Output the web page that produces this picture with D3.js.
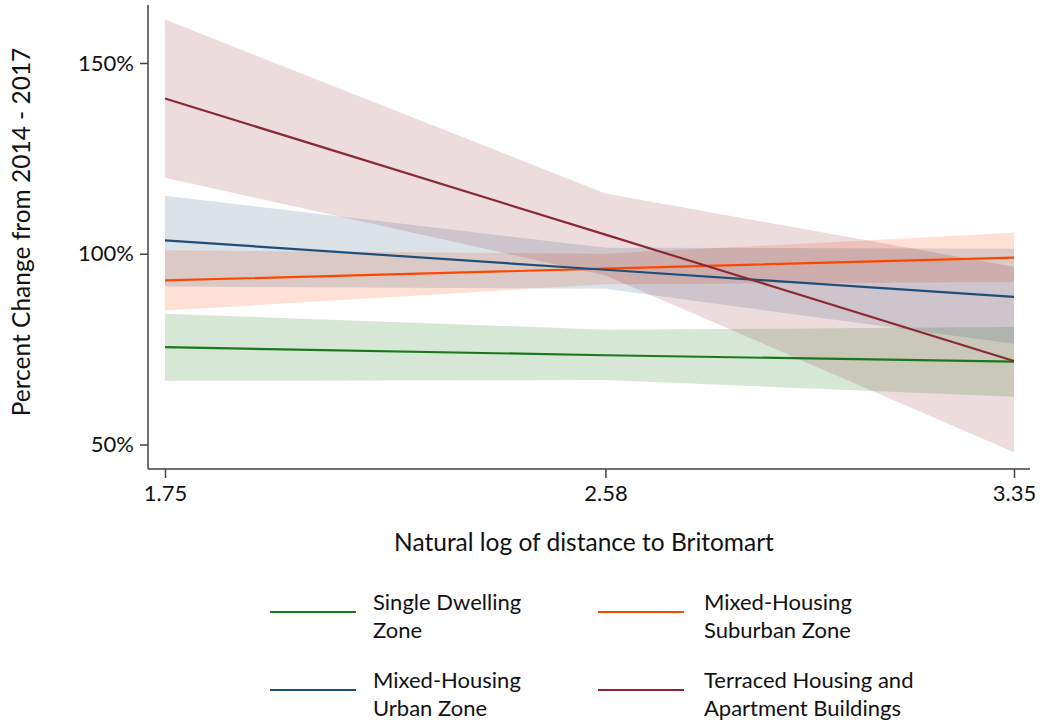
<!DOCTYPE html>
<html>
<head>
<meta charset="utf-8">
<script src="https://cdn.jsdelivr.net/npm/d3@7"></script>
<style>
  html, body { margin: 0; padding: 0; background: #fff; }
  svg { display: block; font-family: Lato, "Open Sans", sans-serif; }
</style>
</head>
<body>
<svg id="chart" width="1040" height="724"></svg>
<script>
// ---- data ----
const xValues = [1.75, 2.58, 3.35];
const xTickLabels = ["1.75", "2.58", "3.35"];
const yTicks = [50, 100, 150];

const seriesNames = ["Single Dwelling Zone", "Mixed-Housing Suburban Zone", "Mixed-Housing Urban Zone", "Terraced Housing and Apartment Buildings"];

const singleFit = [75.5, 73.4, 71.7];
const singleLo  = [66.7, 66.9, 62.5];
const singleHi  = [84.3, 80.1, 80.8];

const suburbanFit = [93.0, 96.1, 99.0];
const suburbanLo  = [85.1, 92.0, 92.6];
const suburbanHi  = [100.9, 100.0, 105.5];

const urbanFit = [103.5, 95.8, 88.7];
const urbanLo  = [91.4, 90.8, 76.4];
const urbanHi  = [115.2, 101.6, 101.3];

const terracedFit = [140.7, 105.0, 71.9];
const terracedLo  = [119.9, 94.3, 48.0];
const terracedHi  = [161.4, 115.8, 96.6];

// ---- build ----
const series = [
  { name: seriesNames[0], fit: singleFit, lo: singleLo, hi: singleHi, color: "#1a781a", op: 0.18, legend: ["Single Dwelling", "Zone"] },
  { name: seriesNames[1], fit: suburbanFit, lo: suburbanLo, hi: suburbanHi, color: "#ff4500", op: 0.17, legend: ["Mixed-Housing", "Suburban Zone"] },
  { name: seriesNames[2], fit: urbanFit, lo: urbanLo, hi: urbanHi, color: "#1f4e79", op: 0.16, legend: ["Mixed-Housing", "Urban Zone"] },
  { name: seriesNames[3], fit: terracedFit, lo: terracedLo, hi: terracedHi, color: "#8c2832", op: 0.16, legend: ["Terraced Housing and", "Apartment Buildings"] }
];

const svg = d3.select("#chart");
const x = d3.scaleLinear().domain([1.75, 3.35]).range([165, 1014]);
const y = d3.scaleLinear().domain([50, 150]).range([444.5, 63]);

const textColor = "#111";
const axisColor = "#404040";
const tickFont = 22;
const titleFont = 24.5;
const legendFont = 22;

const area = d3.area()
  .x((d, i) => x(xValues[i]))
  .y0(d => y(d[0]))
  .y1(d => y(d[1]));
const line = d3.line()
  .x((d, i) => x(xValues[i]))
  .y(d => y(d));

series.forEach(s => {
  const pts = s.lo.map((l, i) => [l, s.hi[i]]);
  svg.append("path")
    .attr("d", area(pts))
    .attr("fill", s.color)
    .attr("fill-opacity", s.op);
});
series.forEach(s => {
  svg.append("path")
    .attr("d", line(s.fit))
    .attr("fill", "none")
    .attr("stroke", s.color)
    .attr("stroke-width", 2.2);
});

// axes
const yAxis = d3.axisLeft(y).tickValues(yTicks).tickSize(8).tickPadding(6).tickFormat(d => d + "%");
const gy = svg.append("g").attr("transform", "translate(148,0)").call(yAxis);
gy.select(".domain").attr("d", "M-0,5V469").attr("stroke", axisColor).attr("stroke-width", 1.5);
gy.selectAll(".tick line").attr("stroke", axisColor).attr("stroke-width", 1.5);
gy.selectAll(".tick text").attr("font-size", tickFont).attr("fill", textColor).attr("font-family", "Lato, sans-serif");

const xAxis = d3.axisBottom(x).tickValues(xValues).tickSize(9).tickPadding(7).tickFormat((d, i) => xTickLabels[i]);
const gx = svg.append("g").attr("transform", "translate(0,469)").call(xAxis);
gx.select(".domain").attr("d", "M148,0H1030").attr("stroke", axisColor).attr("stroke-width", 1.5);
gx.selectAll(".tick line").attr("stroke", axisColor).attr("stroke-width", 1.5);
gx.selectAll(".tick text").attr("font-size", tickFont).attr("fill", textColor).attr("font-family", "Lato, sans-serif");

// titles
svg.append("text")
  .attr("x", 584).attr("y", 551)
  .attr("text-anchor", "middle")
  .attr("font-size", titleFont).attr("fill", textColor)
  .text("Natural log of distance to Britomart");

svg.append("text")
  .attr("transform", "translate(30,232) rotate(-90)")
  .attr("text-anchor", "middle")
  .attr("font-size", titleFont).attr("fill", textColor)
  .text("Percent Change from 2014 - 2017");

// legend
const legendPos = [
  { lx: 270, ly: 612, tx: 373 },
  { lx: 598, ly: 612, tx: 704 },
  { lx: 270, ly: 690, tx: 373 },
  { lx: 598, ly: 690, tx: 704 }
];
series.forEach((s, i) => {
  const p = legendPos[i];
  svg.append("line")
    .attr("x1", p.lx).attr("x2", p.lx + 86)
    .attr("y1", p.ly).attr("y2", p.ly)
    .attr("stroke", s.color).attr("stroke-width", 2.2);
  s.legend.forEach((t, j) => {
    svg.append("text")
      .attr("x", p.tx).attr("y", p.ly - 2 + j * 28)
      .attr("font-size", legendFont).attr("fill", textColor)
      .text(t);
  });
});
</script>
</body>
</html>
